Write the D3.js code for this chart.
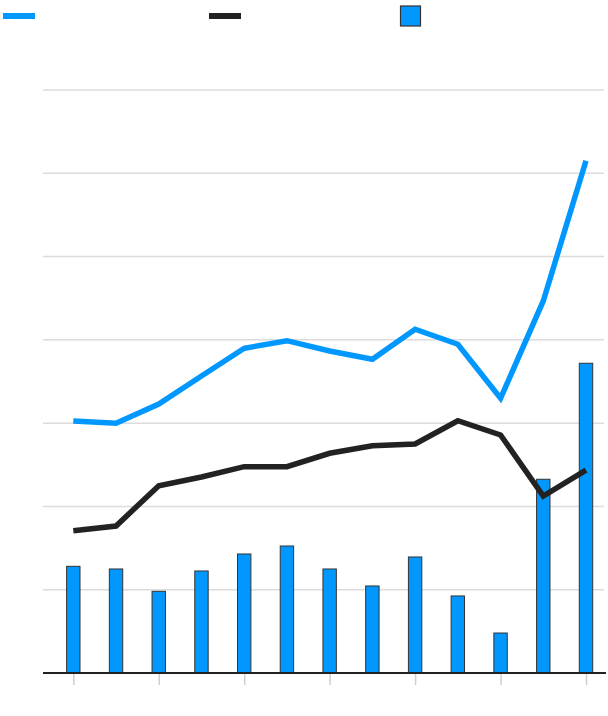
<!DOCTYPE html>
<html>
<head>
<meta charset="utf-8">
<script src="https://cdn.jsdelivr.net/npm/d3@7"></script>
<style>
html,body{margin:0;padding:0;background:#fff;}
svg{display:block;}
</style>
</head>
<body>
<svg id="chart" width="608" height="716"></svg>
<script>
const categories = ["1","2","3","4","5","6","7","8","9","10","11","12","13"];
const blueLine = [30.26, 29.98, 32.3, 35.66, 38.99, 39.9, 38.66, 37.67, 41.27, 39.47, 32.98, 44.67, 61.51];
const blackLine = [17.09, 17.65, 22.49, 23.53, 24.77, 24.77, 26.38, 27.29, 27.5, 30.29, 28.58, 21.25, 24.37];
const bars = [12.81, 12.49, 9.81, 12.25, 14.29, 15.25, 12.49, 10.45, 13.93, 9.25, 4.8, 23.26, 37.19];
const yTicks = [0, 10, 20, 30, 40, 50, 60, 70];
const tickCats = categories.filter((d, i) => i % 2 === 0);

const BLUE = "#0098ff", BLACK = "#222";
const svg = d3.select("#chart");
const x = d3.scalePoint().domain(categories).range([73.3, 586]);
const y = d3.scaleLinear().domain([0, 70]).range([673, 90]);
const barW = 13.4;

// gridlines
svg.append("g").selectAll("line").data(yTicks.filter(d => d > 0)).join("line")
  .attr("x1", 43).attr("x2", 604)
  .attr("y1", d => y(d)).attr("y2", d => y(d))
  .attr("stroke", "#dcdcdc").attr("stroke-width", 1.5);

// x ticks
const xAxis = d3.axisBottom(x).tickValues(tickCats).tickSize(12).tickFormat("");
const gx = svg.append("g").attr("transform", `translate(0,${y(0)})`).call(xAxis);
gx.select(".domain").remove();
gx.selectAll(".tick line").attr("stroke", "#d0d0d0").attr("stroke-width", 1.5);

// bars
svg.append("g").selectAll("rect").data(bars).join("rect")
  .attr("x", (d, i) => x(categories[i]) - barW / 2)
  .attr("width", barW)
  .attr("y", d => y(d))
  .attr("height", d => y(0) - y(d))
  .attr("fill", BLUE).attr("stroke", "#333").attr("stroke-width", 1);

// baseline
svg.append("line").attr("x1", 43).attr("x2", 606)
  .attr("y1", y(0)).attr("y2", y(0))
  .attr("stroke", BLACK).attr("stroke-width", 2);

const line = d3.line().x((d, i) => x(categories[i])).y(d => y(d));
svg.append("path").datum(blackLine).attr("d", line)
  .attr("fill", "none").attr("stroke", BLACK).attr("stroke-width", 5.5);
svg.append("path").datum(blueLine).attr("d", line)
  .attr("fill", "none").attr("stroke", BLUE).attr("stroke-width", 5.5);

// legend
const lg = svg.append("g");
lg.append("line").attr("x1", 3).attr("x2", 35).attr("y1", 16).attr("y2", 16)
  .attr("stroke", BLUE).attr("stroke-width", 6);
lg.append("line").attr("x1", 209).attr("x2", 241).attr("y1", 16).attr("y2", 16)
  .attr("stroke", BLACK).attr("stroke-width", 6);
lg.append("rect").attr("x", 400.5).attr("y", 6).attr("width", 20).attr("height", 20)
  .attr("fill", BLUE).attr("stroke", "#333").attr("stroke-width", 1.2);
</script>
</body>
</html>
